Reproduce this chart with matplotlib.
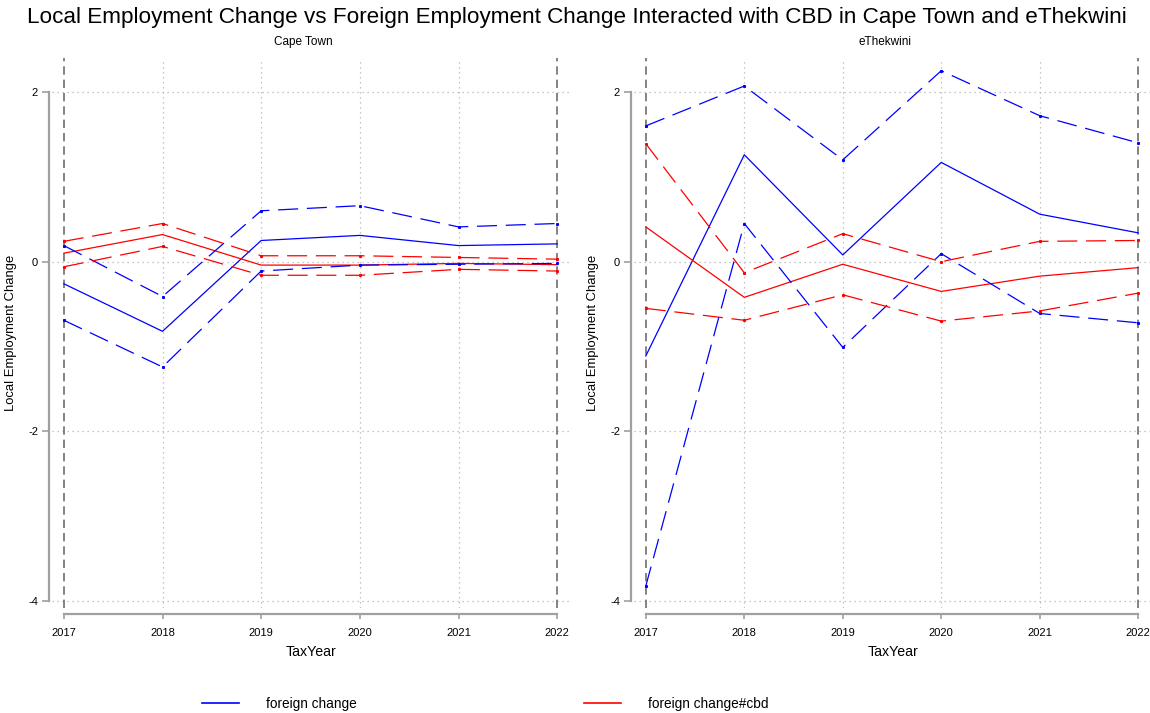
import matplotlib
matplotlib.use("Agg")
import matplotlib.pyplot as plt
from matplotlib import font_manager

# ====================== Data ======================
years = [2017, 2018, 2019, 2020, 2021, 2022]

# Cape Town
ct_foreign = [-0.26, -0.82, 0.25, 0.31, 0.19, 0.21]
ct_foreign_hi = [0.19, -0.41, 0.60, 0.66, 0.41, 0.45]
ct_foreign_lo = [-0.69, -1.24, -0.11, -0.04, -0.03, -0.02]
ct_cbd = [0.10, 0.32, -0.04, -0.04, -0.02, -0.035]
ct_cbd_hi = [0.24, 0.45, 0.07, 0.07, 0.05, 0.03]
ct_cbd_lo = [-0.06, 0.18, -0.16, -0.16, -0.09, -0.11]

# eThekwini
eth_foreign = [-1.11, 1.26, 0.08, 1.17, 0.56, 0.34]
eth_foreign_hi = [1.60, 2.07, 1.20, 2.25, 1.72, 1.40]
eth_foreign_lo = [-3.82, 0.45, -1.01, 0.095, -0.61, -0.72]
eth_cbd = [0.41, -0.42, -0.03, -0.35, -0.17, -0.07]
eth_cbd_hi = [1.39, -0.13, 0.33, 0.00, 0.24, 0.25]
eth_cbd_lo = [-0.55, -0.69, -0.39, -0.70, -0.58, -0.37]

y_ticks = [-4, -2, 0, 2]
legend_labels = ["foreign change", "foreign change#cbd"]

# ====================== Style ======================
names = {f.name for f in font_manager.fontManager.ttflist}
FONT = "Liberation Sans Narrow" if "Liberation Sans Narrow" in names else "Liberation Sans"
plt.rcParams["font.family"] = [FONT, "DejaVu Sans"]

W, H = 1150, 713
fig = plt.figure(figsize=(W / 100, H / 100), dpi=100)


def px(l, t, r, b):
    return [l / W, 1 - b / H, (r - l) / W, (b - t) / H]


GRID = "#b4b4b4"
SPINE = "#a0a0a0"
LONGDASH = (0, (16, 7))


def panel(rect, title, title_x, fg, fg_hi, fg_lo, cbd, cbd_hi, cbd_lo):
    ax = fig.add_axes(rect)
    ax.set_xlim(2016.88, 2022.13)
    ax.set_ylim(-4.08, 2.40)

    # grid
    for y in y_ticks:
        ax.axhline(y, color=GRID, lw=0.9, ls=(0, (1, 3)), zorder=1)
    for x in years[1:-1]:
        ax.axvline(x, color=GRID, lw=0.9, ls=(0, (1, 3)), zorder=1)
    for x in (years[0], years[-1]):
        ax.axvline(x, color="#6e6e6e", lw=1.2, ls=(0, (5, 3)), zorder=1)

    # lines
    ax.plot(years, fg, color="#0000ff", lw=0.9, zorder=3)
    ax.plot(years, cbd, color="#ff0000", lw=0.9, zorder=3)
    for s, c in ((fg_hi, "#0000ff"), (fg_lo, "#0000ff"), (cbd_hi, "#ff0000"), (cbd_lo, "#ff0000")):
        ax.plot(years, s, color=c, lw=0.9, ls=LONGDASH, marker="s", ms=1.2, zorder=3)

    # axes
    for side in ("top", "right"):
        ax.spines[side].set_visible(False)
    ax.spines["left"].set_position(("outward", 2))
    ax.spines["left"].set_bounds(-4, 2)
    ax.spines["bottom"].set_position(("outward", 4.5))
    ax.spines["bottom"].set_bounds(2017, 2022)
    for side in ("left", "bottom"):
        ax.spines[side].set_color(SPINE)
        ax.spines[side].set_linewidth(1.6)
    ax.set_xticks(years)
    ax.set_yticks(y_ticks)
    ax.set_yticklabels([str(v) for v in y_ticks])
    ax.tick_params(axis="y", color=SPINE, width=1.2, length=5, labelsize=8, pad=3)
    ax.tick_params(axis="x", color=SPINE, width=1.2, length=3.6, labelsize=8, pad=6)
    ax.set_xlabel("TaxYear", fontsize=10.2, labelpad=5)
    ax.set_ylabel("Local Employment Change", fontsize=9.4, labelpad=8)
    fig.text(title_x / W, 1 - 42 / H, title, ha="center", va="center", fontsize=8.5)
    return ax


ax1 = panel(px(52, 58, 570, 608), "Cape Town", 303,
            ct_foreign, ct_foreign_hi, ct_foreign_lo, ct_cbd, ct_cbd_hi, ct_cbd_lo)
ax2 = panel(px(634, 58, 1151, 608), "eThekwini", 885,
            eth_foreign, eth_foreign_hi, eth_foreign_lo, eth_cbd, eth_cbd_hi, eth_cbd_lo)

fig.text(577 / W, 1 - 18 / H,
         "Local Employment Change vs Foreign Employment Change Interacted with CBD in Cape Town and eThekwini",
         ha="center", va="center", fontsize=16.2)

# legend
h1, = ax1.plot([], [], color="#0000ff", lw=1.2)
h2, = ax1.plot([], [], color="#ff0000", lw=1.2)
fig.legend([h1, h2], legend_labels, loc="center", bbox_to_anchor=(485 / W, 1 - 704 / H),
           ncol=2, frameon=False, fontsize=9.8, handlelength=2.7, handletextpad=2.0,
           columnspacing=16.7)

fig.savefig("out.png", dpi=100)
